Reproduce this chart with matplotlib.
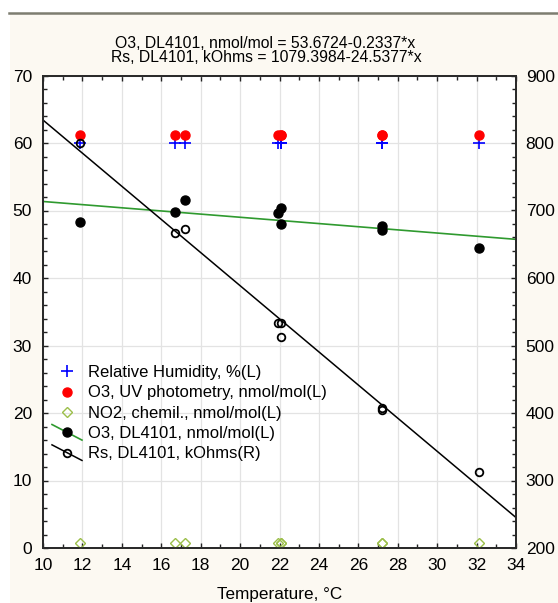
import numpy as np
import matplotlib
matplotlib.use("Agg")
import matplotlib.pyplot as plt
from matplotlib.lines import Line2D
from matplotlib.patches import Rectangle
from matplotlib.legend_handler import HandlerBase
from matplotlib.ticker import MultipleLocator

plt.rcParams["font.family"] = ["Liberation Sans", "DejaVu Sans"]

# === DATA ===
temp = [11.9, 16.7, 17.2, 21.9, 22.1, 22.1, 27.2, 27.2, 32.1]
rh = [60.0, 60.0, 60.0, 60.0, 60.0, 60.0, 60.0, 60.0, 60.0]
o3_uv = [61.2, 61.2, 61.2, 61.2, 61.2, 61.2, 61.2, 61.2, 61.2]
no2 = [0.8, 0.8, 0.8, 0.8, 0.8, 0.8, 0.8, 0.8, 0.8]
o3_dl = [48.3, 49.85, 51.6, 49.6, 50.4, 48.0, 47.7, 47.1, 44.4]
rs_dl = [800, 667, 673, 533, 533, 513, 407, 405, 312]

# regression coefficients (from the chart title)
o3_fit = (53.6724, -0.2337)
rs_fit = (1079.3984, -24.5377)

x_ticks = [10, 12, 14, 16, 18, 20, 22, 24, 26, 28, 30, 32, 34]
labels = ["Relative Humidity, %(L)",
          "O3, UV photometry, nmol/mol(L)",
          "NO2, chemil., nmol/mol(L)",
          "O3, DL4101, nmol/mol(L)",
          "Rs, DL4101, kOhms(R)"]

CREAM = "#fcf9f2"
GREEN = "#2f9a2f"
OLIVE = "#9cbf4a"


class DiagHandler(HandlerBase):
    # Statistica-like legend key: slanted line with marker in the middle
    def create_artists(self, legend, orig, xd, yd, w, h, fs, trans):
        x0, x1 = -xd, -xd + w
        ym = (h - yd) / 2
        ln = Line2D([x0, x1], [ym + 0.26 * w, ym - 0.26 * w])
        ln.update_from(orig)
        ln.set_marker("None")
        mk = Line2D([(x0 + x1) / 2], [ym])
        mk.update_from(orig)
        mk.set_linestyle("None")
        for a in (ln, mk):
            a.set_transform(trans)
        return [ln, mk]


fig = plt.figure(figsize=(5.58, 6.03), dpi=100)
fig.patch.set_facecolor("white")
fig.patches.append(Rectangle((10 / 558, 0), 1, (603 - 13) / 603,
                             transform=fig.transFigure, facecolor=CREAM,
                             edgecolor="none", zorder=-10))
fig.lines.append(Line2D([9 / 558, 1], [1 - 12.5 / 603, 1 - 12.5 / 603],
                        transform=fig.transFigure, color="#7d7d70", lw=1.8))

ax = fig.add_axes([43 / 558, 55 / 603, 473 / 558, 472.5 / 603])
ax.set_facecolor("white")
ax2 = ax.twinx()

# regression lines
xx = np.array([10, 34])
ax.plot(xx, o3_fit[0] + o3_fit[1] * xx, color=GREEN, lw=1.2, zorder=2)
ax2.plot(xx, rs_fit[0] + rs_fit[1] * xx, color="black", lw=1.1, zorder=2)

ax.plot(temp, no2, ls="none", marker="D", ms=5.5, mfc="none", mec=OLIVE, mew=1.0, zorder=3)
ax.plot(temp, rh, ls="none", marker="+", ms=8, color="#0000ff", mew=1.2, zorder=4)
ax.plot(temp, o3_uv, ls="none", marker="o", ms=6.5, color="#ff0000", zorder=4)
ax.plot(temp, o3_dl, ls="none", marker="o", ms=6.5, color="black", zorder=4)
ax2.plot(temp, rs_dl, ls="none", marker="o", ms=5.5, mfc="none", mec="black", mew=1.3, zorder=4)

ax.set_xlim(10, 34)
ax.set_ylim(0, 70)
ax2.set_ylim(200, 900)
ax.set_xticks(x_ticks)
ax.xaxis.set_minor_locator(MultipleLocator(1))
ax.yaxis.set_major_locator(MultipleLocator(10))
ax.yaxis.set_minor_locator(MultipleLocator(2))
ax2.yaxis.set_major_locator(MultipleLocator(100))
ax2.yaxis.set_minor_locator(MultipleLocator(20))
ax.grid(True, which="major", color="#e3e3e3", lw=0.9)

ax.tick_params(axis="x", which="both", direction="in", top=True, labelsize=12.5, pad=7)
ax.tick_params(axis="y", which="both", direction="in", right=False, labelsize=12.5, pad=8)
ax2.tick_params(axis="y", which="both", direction="in", labelsize=12.5, pad=7)
for a in (ax, ax2):
    a.tick_params(which="major", length=3.5, width=1.0, color="#222222")
    a.tick_params(which="minor", length=3, width=1.0, color="#222222")
    for s in a.spines.values():
        s.set_color("#2a2a2a")
        s.set_linewidth(1.3)

ax.set_xlabel("Temperature, °C", fontsize=12.3, labelpad=10.5)

fig.text(265 / 558, 1 - 43 / 603, "O3, DL4101, nmol/mol = 53.6724-0.2337*x",
         ha="center", va="center", fontsize=11.3)
fig.text(266 / 558, 1 - 58 / 603, "Rs, DL4101, kOhms = 1079.3984-24.5377*x",
         ha="center", va="center", fontsize=11.3)

# legend
h_rh = Line2D([], [], ls="none", marker="+", ms=8, color="#0000ff", mew=1.2)
h_uv = Line2D([], [], ls="none", marker="o", ms=6.5, color="#ff0000")
h_no2 = Line2D([], [], ls="none", marker="D", ms=5.5, mfc="none", mec=OLIVE, mew=1.0)
h_o3 = Line2D([], [], color=GREEN, lw=1.2, marker="o", ms=6.5, mfc="black", mec="black")
h_rs = Line2D([], [], color="black", lw=1.1, marker="o", ms=5.5, mfc="none", mec="black", mew=1.3)
leg = ax2.legend([h_rh, h_uv, h_no2, h_o3, h_rs], labels,
                 handler_map={h_o3: DiagHandler(), h_rs: DiagHandler()},
                 loc="upper left", bbox_to_anchor=(0.019, 0.387), frameon=False,
                 fontsize=12, borderaxespad=0, borderpad=0, handlelength=1.8,
                 handletextpad=0.35, labelspacing=0.32)

fig.savefig("out.png", dpi=100, facecolor=fig.get_facecolor())
